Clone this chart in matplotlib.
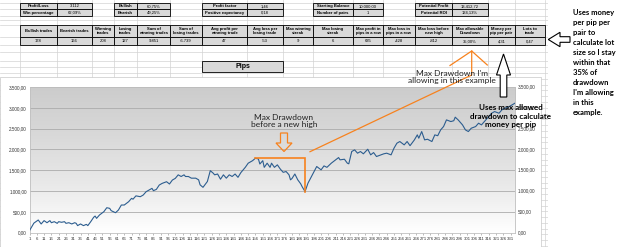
import matplotlib
matplotlib.use("Agg")
import matplotlib.pyplot as plt
import numpy as np
from matplotlib.patches import Rectangle, Polygon
from matplotlib.colors import LinearSegmentedColormap

# ---------------- data ----------------
trade_no = [1, 4, 7, 9, 11, 13, 15, 16, 18, 20, 21, 23, 25, 26, 28, 30, 32, 33, 34, 36,
            38, 40, 41, 43, 45, 46, 47, 49, 52, 54, 56, 57, 60, 62, 64, 66, 69, 71, 72, 74,
            77, 79, 81, 83, 85, 86, 88, 90, 92, 95, 97, 99, 101, 103, 105, 107, 108, 110, 112, 115,
            117, 118, 120, 123, 125, 127, 128, 130, 132, 134, 136, 138, 140, 142, 144, 146, 149, 151, 154, 156,
            158, 159, 161, 162, 164, 166, 167, 169, 171, 173, 175, 177, 179, 180, 181, 183, 185, 187, 188, 190,
            192, 195, 198, 201, 203, 205, 208, 211, 213, 214, 217, 219, 220, 222, 224, 226, 228, 230, 233, 235,
            237, 239, 242, 244, 246, 249, 251, 253, 255, 258, 260, 262, 265, 267, 268, 270, 272, 274, 277, 279,
            281, 283, 285, 287, 290, 292, 293, 295, 298, 300, 302, 304, 307, 309, 311, 314, 316, 318, 320, 323,
            325, 327, 330, 334]
pips = [50, 230, 305, 210, 290, 240, 290, 240, 265, 225, 265, 250, 265, 225, 240, 210, 240, 225, 170, 210,
        170, 200, 170, 265, 370, 400, 345, 425, 505, 600, 585, 530, 480, 545, 665, 665, 745, 825, 805, 885,
        865, 905, 985, 1025, 1065, 1010, 1040, 1145, 1185, 1225, 1170, 1265, 1305, 1390, 1350, 1390, 1350, 1350, 1310, 1310,
        1270, 1150, 1090, 1230, 1490, 1430, 1390, 1410, 1285, 1390, 1310, 1390, 1350, 1410, 1330, 1445, 1570, 1670, 1730, 1790,
        1770, 1650, 1730, 1570, 1670, 1570, 1670, 1570, 1630, 1530, 1450, 1470, 1390, 1270, 1300, 1410, 1270, 1175, 1105, 988,
        1190, 1390, 1590, 1510, 1605, 1570, 1670, 1750, 1805, 1750, 1765, 1670, 1655, 1950, 1990, 1910, 1950, 1895, 2005, 1870,
        1925, 1830, 1870, 1895, 1910, 1870, 2030, 2150, 2190, 2110, 2190, 2090, 2230, 2350, 2270, 2430, 2230, 2245, 2190, 2350,
        2330, 2470, 2550, 2710, 2670, 2690, 2775, 2710, 2590, 2470, 2430, 2510, 2550, 2630, 2590, 2710, 2790, 2870, 2910, 2870,
        2950, 2990, 3030, 3112]

x_ticks = list(range(1, 332, 5))
y_ticks = [0, 500, 1000, 1500, 2000, 2500, 3000, 3500]
y_tick_labels = ["0,00", "500,00", "1.000,00", "1.500,00", "2.000,00", "2.500,00", "3.000,00", "3.500,00"]

top_rows = [
    [("Profit/Loss", "3.112"), ("Bullish", "60,75%"), ("Profit factor", "1,46"),
     ("Starting Balance", "10.000,00"), ("Potential Profit", "13.412,72")],
    [("Win percentage", "62,09%"), ("Bearish", "49,25%"), ("Positive expectancy", "0,18"),
     ("Number of pairs", "1"), ("Potential ROI", "134,13%")],
]
headers = ["Bullish trades", "Bearish trades", "Winning\ntrades", "Losing\ntrades",
           "Sum of\nwinning trades", "Sum of\nlosing trades", "Avg profit per\nwinning trade",
           "Avg loss per\nlosing trade", "Max winning\nstreak", "Max losing\nstreak",
           "Max profit in\npips in a row", "Max loss in\npips in a row", "Max loss before\nnew high",
           "Max allowable\nDrawdown", "Money per\npip per pair", "Lots to\ntrade"]
values = ["178", "166", "208", "127", "9.851", "-6.739", "47", "-53", "9", "6",
          "635", "-428", "-812", "35,00%", "4,31", "0,47"]

# ---------------- layout (pixels) ----------------
W, H = 625, 247
fig = plt.figure(figsize=(W / 100, H / 100), dpi=100)

def fx(x):
    return x / W

def fy(y):
    return 1 - y / H

GRID = "#d3d3d3"
CELL = "#d9d9d9"
ORANGE = "#f7821e"
BLUE = "#2c5d8f"

# background spreadsheet axes
bg = fig.add_axes([0, 0, 1, 1], zorder=0)
bg.set_xlim(0, W)
bg.set_ylim(H, 0)
bg.axis("off")

col_edges = [20, 57, 92, 114, 137, 170, 202, 247, 283, 313, 353, 383, 415, 452, 488, 515, 545]
row_lines = [3.3, 9.5, 15.7, 20.5, 25, 37, 45, 52.5, 60.7, 67.3, 73]
for y in row_lines:
    bg.plot([0, 548], [y, y], color=GRID, lw=0.5)
for y in np.arange(79, 247, 5.75):
    bg.plot([0, 548], [y, y], color=GRID, lw=0.5)
for x in col_edges:
    bg.plot([x, x], [0, 247], color=GRID, lw=0.5)

# chart area
bg.add_patch(Rectangle((0, 76.5), 541, 175, facecolor="white", edgecolor="#c8c8c8", lw=0.5, zorder=3))
# right text box
bg.add_patch(Rectangle((548, 0), 80, 250, facecolor="white", edgecolor="none", zorder=3))

# top small tables
pairs_x = [(20, 57, 92), (114, 137, 170), (202, 247, 283), (313, 353, 383), (415, 452, 488)]
row_y = [(3.3, 9.5), (9.5, 15.7)]
for r, row in enumerate(top_rows):
    y0, y1 = row_y[r]
    for (lab, val), (a, b, c) in zip(row, pairs_x):
        bg.add_patch(Rectangle((a, y0), b - a, y1 - y0, facecolor=CELL, edgecolor="black", lw=0.6, zorder=4))
        bg.add_patch(Rectangle((b, y0), c - b, y1 - y0, facecolor=CELL, edgecolor="black", lw=0.6, zorder=4))
        bg.text((a + b) / 2, (y0 + y1) / 2, lab, ha="center", va="center", fontsize=3.0,
                fontweight="bold", family="Liberation Sans", zorder=5)
        bg.text((b + c) / 2, (y0 + y1) / 2, val, ha="center", va="center", fontsize=3.0,
                family="Liberation Sans", zorder=5)

for i, (h, v) in enumerate(zip(headers, values)):
    a, b = col_edges[i], col_edges[i + 1]
    bg.add_patch(Rectangle((a, 25), b - a, 12, facecolor=CELL, edgecolor="black", lw=0.6, zorder=4))
    bg.add_patch(Rectangle((a, 37), b - a, 8, facecolor=CELL, edgecolor="black", lw=0.6, zorder=4))
    bg.text((a + b) / 2, 31, h, ha="center", va="center", fontsize=3.0, fontweight="bold",
            family="Liberation Sans", linespacing=1.1, zorder=5)
    bg.text((a + b) / 2, 41.2, v, ha="center", va="center", fontsize=3.0,
            family="Liberation Sans", zorder=5)

bg.add_patch(Rectangle((202, 60.7), 81, 11.6, facecolor=CELL, edgecolor="black", lw=0.6, zorder=4))
bg.text(242.5, 66.5, "Pips", ha="center", va="center", fontsize=5, fontweight="bold",
        family="Liberation Sans", zorder=5)

# ---------------- chart ----------------
L, R, T, B = 29.5, 515, 87, 232.7
ax = fig.add_axes([fx(L), fy(B), (R - L) / W, (B - T) / H], zorder=1)
grad = np.linspace(0, 1, 256).reshape(-1, 1)
cmap = LinearSegmentedColormap.from_list("g", ["#cccccc", "#d9d9d9", "#e9e9e9", "#ffffff"])
ax.imshow(grad, aspect="auto", cmap=cmap, extent=[1, 334, 0, 3500], origin="upper", zorder=0)
ax.set_xlim(1, 334)
ax.set_ylim(0, 3500)
for v in y_ticks[1:]:
    ax.axhline(v, color="#ababab", lw=0.6, zorder=1)
ax.plot(trade_no, pips, color=BLUE, lw=0.8, zorder=3)

ax.set_yticks(y_ticks)
ax.set_yticklabels(y_tick_labels, fontsize=3.3, family="Liberation Sans", color="#333333")
ax.set_xticks(x_ticks)
ax.set_xticklabels([str(t) for t in x_ticks], fontsize=3.1, family="Liberation Sans", color="#333333")
ax.tick_params(axis="y", length=0, pad=2)
ax.tick_params(axis="x", length=1.5, width=0.4, pad=1.5, color="#888888")
for s in ax.spines.values():
    s.set_color("#c0c0c0")
    s.set_linewidth(0.6)
for v, lab in zip(y_ticks, y_tick_labels):
    ax.text(1.006, v, lab, transform=ax.get_yaxis_transform(), fontsize=3.3, ha="left",
            va="center", family="Liberation Sans", color="#333333")

# max drawdown bracket from the data
arr = np.array(pips, dtype=float)
runmax = np.maximum.accumulate(arr)
i_tr = int(np.argmax(runmax - arr))
i_pk = int(np.argmax(arr[: i_tr + 1]))
ax.plot([trade_no[i_pk], trade_no[i_tr], trade_no[i_tr]], [arr[i_pk], arr[i_pk], arr[i_tr]],
        color=ORANGE, lw=1.2, zorder=4, solid_joinstyle="miter")

# ---------------- annotations overlay ----------------
ov = fig.add_axes([0, 0, 1, 1], zorder=2)
ov.set_xlim(0, W)
ov.set_ylim(H, 0)
ov.axis("off")
ov.patch.set_alpha(0)

ov.text(284, 121, "Max Drawdown\nbefore a new high", ha="center", va="center", fontsize=6,
        family="Lato", linespacing=1.15, color="#222222")
ov.add_patch(Polygon([(280.5, 133), (287.5, 133), (287.5, 143), (292, 143), (284, 151.5),
                      (276, 143), (280.5, 143)], closed=True, facecolor="none",
                     edgecolor=ORANGE, lw=0.9))

ov.plot([310, 471.7, 471.7], [151.7, 75, 51], color=ORANGE, lw=0.9)
ov.plot([450, 471.7, 487.3], [65.5, 51, 65], color=ORANGE, lw=0.9)
ov.text(452, 77, "Max Drawdown I'm\nallowing in this example", ha="center", va="center",
        fontsize=6, family="Lato", linespacing=1.15, color="#222222")

ov.add_patch(Polygon([(503.5, 54), (510.5, 75), (506.8, 75), (506.8, 97), (500.2, 97),
                      (500.2, 75), (496.5, 75)], closed=True, facecolor="white",
                     edgecolor="black", lw=0.8))
ov.text(511, 116, "Uses max allowed\ndrawdown to calculate\nmoney per pip", ha="center",
        va="center", fontsize=5.8, fontweight="bold", family="Lato", linespacing=1.2)

ov.add_patch(Polygon([(548.3, 39.5), (560, 32.3), (560, 36.7), (570, 36.7), (570, 42.3),
                      (560, 42.3), (560, 46.7)], closed=True, facecolor="white",
                     edgecolor="black", lw=0.8))
ov.text(573, 9, "Uses money\nper pip per\npair to\ncalculate lot\nsize so I stay\nwithin that\n35% of\n"
        "drawdown\nI'm allowing\nin this\nexample.", ha="left", va="top", fontsize=5.5,
        fontweight="bold", family="Lato", linespacing=1.5)

fig.savefig("out.png", dpi=100)
